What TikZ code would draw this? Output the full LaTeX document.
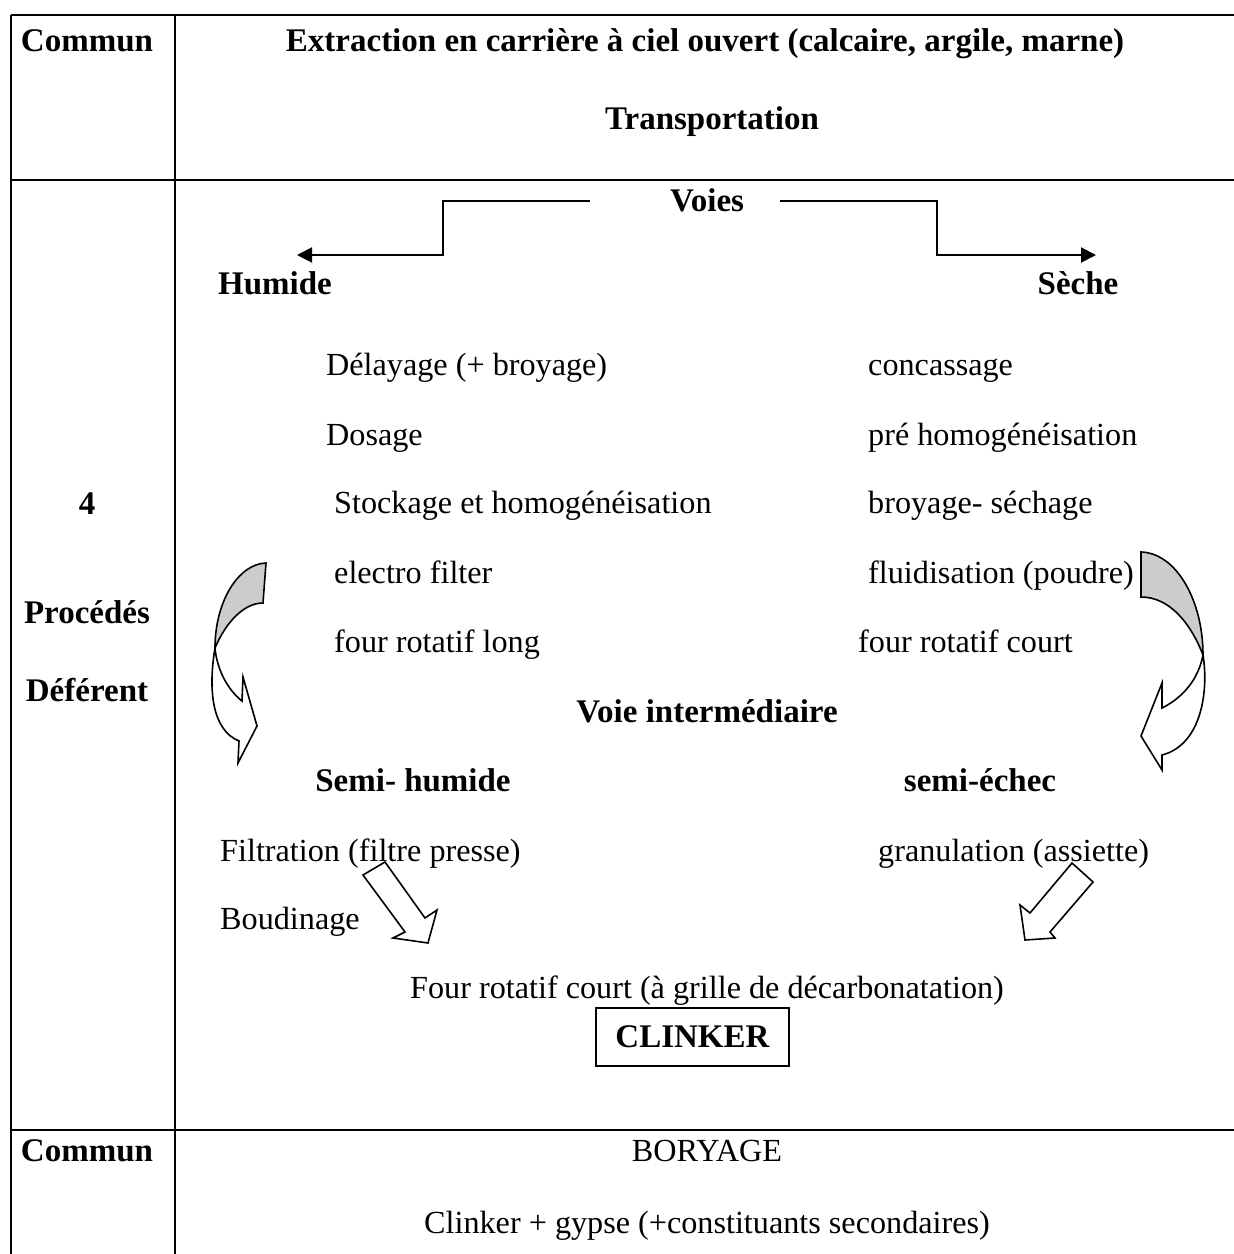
\documentclass[tikz,border=0pt]{standalone}
\usepackage{fontspec}
\setmainfont{Liberation Serif}
\usetikzlibrary{arrows.meta}
\begin{document}
\begin{tikzpicture}[x=1pt,y=-1pt,
  txt/.style={inner sep=0pt,font=\fontsize{32.2}{40}\selectfont},
  btxt/.style={inner sep=0pt,font=\fontsize{33}{40}\selectfont\bfseries},
  grid/.style={line width=2.6pt},
  conn/.style={line width=2pt,-{Triangle[length=15pt,width=15pt]}},
  blockarrow/.style={draw,line width=1.6pt,fill=white,line join=miter},
  curvegray/.style={draw,line width=1.6pt,fill=black!20},
]
\useasboundingbox (0,0) rectangle (1234,1254);
% table grid
\draw[grid] (11,15) -- (1234,15);
\draw[grid] (11,180) -- (1234,180);
\draw[grid] (11,1130) -- (1234,1130);
\draw[grid] (11,15) -- (11,1254);
\draw[grid] (175,15) -- (175,1254);

% row 1
\node[btxt,anchor=base] (c1) at (87,51) {Commun};
\node[btxt,anchor=base] (extr) at (705,51) {Extraction en carrière à ciel ouvert (calcaire, argile, marne)};
\node[btxt,anchor=base] (transp) at (712,129) {Transportation};

% row 2 left
\node[btxt,anchor=base] (four4) at (87,514) {4};
\node[btxt,anchor=base] (proc) at (87,623) {Procédés};
\node[btxt,anchor=base] (def) at (87,701) {Déférent};

% Voies
\node[btxt,anchor=base] (voies) at (707,211) {Voies};
\node[btxt,anchor=base] (humide) at (275,294) {Humide};
\node[btxt,anchor=base] (seche) at (1078,294) {Sèche};
\coordinate (vL) at (590,201);
\coordinate (vR) at (780,201);
\coordinate (hT) at (297,255);
\coordinate (sT) at (1096,255);
\draw[conn] (vL) -- (443,201) -- (443,255) -- (hT);
\draw[conn] (vR) -- (937,201) -- (937,255) -- (sT);

% left column
\node[txt,anchor=base west] (l1) at (326,375) {Délayage (+ broyage)};
\node[txt,anchor=base west] (l2) at (326,445) {Dosage};
\node[txt,anchor=base west] (l3) at (334,513) {Stockage et homogénéisation};
\node[txt,anchor=base west] (l4) at (334,583) {electro filter};
\node[txt,anchor=base west] (l5) at (334,652) {four rotatif long};
% right column
\node[txt,anchor=base west] (r1) at (868,375) {concassage};
\node[txt,anchor=base west] (r2) at (868,445) {pré homogénéisation};
\node[txt,anchor=base west] (r3) at (868,513) {broyage- séchage};
\node[txt,anchor=base west] (r4) at (868,583) {fluidisation (poudre)};
\node[txt,anchor=base west] (r5) at (858,652) {four rotatif court};

\node[btxt,anchor=base] (vint) at (707,722) {Voie intermédiaire};
\node[btxt,anchor=base] (semih) at (413,791) {Semi- humide};
\node[btxt,anchor=base] (semie) at (980,791) {semi-échec};
\node[txt,anchor=base west] (filt) at (220,861) {Filtration (filtre presse)};
\node[txt,anchor=base west] (gran) at (878,861) {granulation (assiette)};
\node[txt,anchor=base west] (boud) at (220,929) {Boudinage};
\node[txt,anchor=base] (fourc) at (707,998) {Four rotatif court (à grille de décarbonatation)};
\draw[line width=2pt] (596,1008) rectangle (789,1066);
\node[btxt] (clinker) at (692.5,1037) {CLINKER};

% curved arrows (left)
\draw[curvegray] (266,563) .. controls (238,564) and (215,602) .. (215,648)
  .. controls (226,622) and (244,603) .. (263,603) -- cycle;
\draw[blockarrow] (215,648) .. controls (208,690) and (212,730) .. (239,741)
  -- (238,763) -- (257,726) -- (243,677) -- (242,701)
  .. controls (228,690) and (217,670) .. (215,648) -- cycle;
% curved arrows (right)
\draw[curvegray] (1141,552) .. controls (1176,553) and (1203,600) .. (1203,655)
  .. controls (1191,624) and (1170,597) .. (1141,597) -- cycle;
\draw[blockarrow] (1203,655) .. controls (1209,692) and (1201,745) .. (1162,755)
  -- (1162,770) -- (1141,736) -- (1162,683) -- (1162,708)
  .. controls (1186,696) and (1199,676) .. (1203,655) -- cycle;

% straight block arrows
\draw[blockarrow] (385,862) -- (425,918) -- (437,910) -- (428,943) -- (393,938) -- (405,932) -- (363,875) -- cycle;
\draw[blockarrow] (1072,863) -- (1030,913) -- (1020,905) -- (1025,940) -- (1055,938) -- (1050,932) -- (1093,882) -- cycle;

% row 3
\node[btxt,anchor=base] (c3) at (87,1161) {Commun};
\node[txt,anchor=base] (bory) at (707,1161) {BORYAGE};
\node[txt,anchor=base] (clg) at (707,1233) {Clinker + gypse (+constituants secondaires)};
\end{tikzpicture}
\end{document}
